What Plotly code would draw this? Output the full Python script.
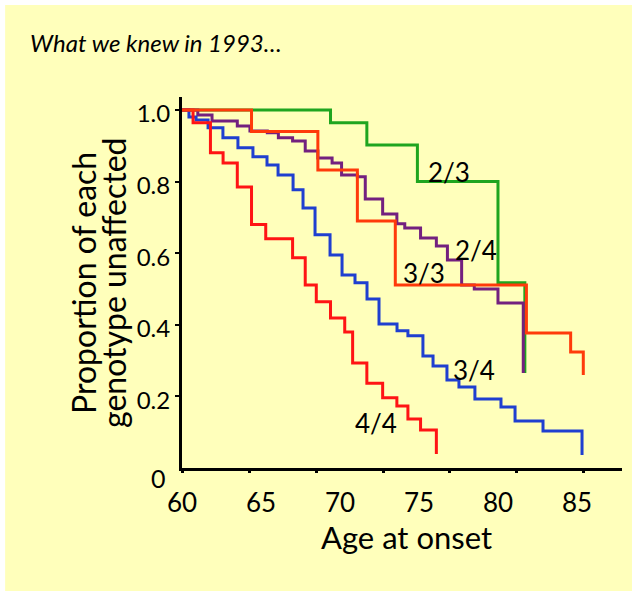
import plotly.graph_objects as go

# Kaplan-Meier style curves
age_23 = [60, 69.4, 71.7, 74.9, 80.0, 81.7]
surv_23 = [1.0, 0.964, 0.902, 0.80, 0.517, 0.265]

age_24 = [60, 61.0, 61.9, 63.5, 64.3, 65.4, 66.1, 67.0, 67.8, 68.6, 69.5, 70.1, 71.1,
          71.6, 72.7, 73.6, 74.1, 75.1, 76.1, 76.8, 77.7, 78.5, 80.0, 81.6]
surv_24 = [1.0, 0.986, 0.969, 0.955, 0.941, 0.936, 0.922, 0.913, 0.885, 0.866, 0.852, 0.818, 0.813,
           0.751, 0.709, 0.682, 0.670, 0.642, 0.620, 0.581, 0.511, 0.50, 0.461, 0.265]

age_33 = [60, 64.4, 68.6, 71.1, 73.5, 81.8, 84.6, 85.4]
surv_33 = [1.0, 0.94, 0.832, 0.69, 0.511, 0.377, 0.324, 0.26]

age_34 = [60, 60.44, 60.89, 61.65, 62.59, 63.54, 64.49, 65.38, 66.08, 67.03, 67.66, 68.42,
          69.37, 70.13, 70.95, 71.71, 72.47, 73.61, 74.30, 75.25, 75.89, 76.77, 77.53,
          78.54, 80.19, 81.08, 82.85, 85.32]
surv_34 = [1.0, 0.98, 0.972, 0.95, 0.922, 0.894, 0.869, 0.846, 0.818, 0.777, 0.726, 0.651,
           0.595, 0.539, 0.517, 0.472, 0.402, 0.383, 0.369, 0.313, 0.285, 0.246, 0.226,
           0.193, 0.17, 0.131, 0.103, 0.036]

age_44 = [60, 60.7, 61.8, 62.6, 63.5, 64.4, 65.3, 67.0, 67.8, 68.5, 69.4, 70.3, 70.8,
          71.7, 72.7, 73.6, 74.3, 75.1, 76.1]
surv_44 = [1.0, 0.964, 0.88, 0.852, 0.785, 0.68, 0.64, 0.587, 0.511, 0.464, 0.419, 0.38, 0.293,
           0.237, 0.196, 0.173, 0.137, 0.106, 0.039]

x_ticks = [60, 65, 70, 75, 80, 85]
x_dots = [60, 64.30, 68.54, 72.78, 76.96, 81.20, 85.44]
y_ticks = [0.2, 0.4, 0.6, 0.8, 1.0]

labels = ["2/3", "2/4", "3/3", "3/4", "4/4"]
label_x = [76.9, 78.6, 75.3, 78.5, 72.3]
label_y = [0.827, 0.609, 0.545, 0.274, 0.126]

FONT = "Lato"
BG = "#FFFFBB"

fig = go.Figure()
curves = [
    (age_23, surv_23, "#1FA51F"),
    (age_24, surv_24, "#73207F"),
    (age_34, surv_34, "#1F3FD0"),
    (age_44, surv_44, "#FF1414"),
    (age_33, surv_33, "#FF3A0A"),
]
for xs, ys, col in curves:
    fig.add_trace(go.Scatter(x=xs, y=ys, mode="lines", line_shape="hv",
                             line=dict(color=col, width=3), showlegend=False,
                             hoverinfo="skip"))

# invisible trace so the tick-dot axis gets drawn
fig.add_trace(go.Scatter(x=[60], y=[0], xaxis="x2", mode="markers",
                         marker=dict(opacity=0), showlegend=False, hoverinfo="skip"))

for t, lx, ly in zip(labels, label_x, label_y):
    fig.add_annotation(x=lx, y=ly, text=t, showarrow=False,
                       font=dict(family=FONT, size=26, color="black"))

# the lone "0" sits outside the x range, so place it in paper coords
fig.add_annotation(xref="paper", yref="paper", x=-0.0545, y=-0.027,
                   xanchor="center", yanchor="middle", text="0", showarrow=False,
                   font=dict(family=FONT, size=25, color="black"))

fig.add_annotation(xref="paper", yref="paper", x=-0.35, y=1.1456,
                   xanchor="left", yanchor="middle",
                   text="<i>What we knew in 1993…</i>", showarrow=False,
                   font=dict(family=FONT, size=24, color="black"))

fig.add_annotation(xref="paper", yref="paper", x=-0.2227, y=0.4987, textangle=-90,
                   xanchor="center", yanchor="middle",
                   text="Proportion of each", showarrow=False,
                   font=dict(family=FONT, size=32, color="black"))
fig.add_annotation(xref="paper", yref="paper", x=-0.1545, y=0.4987, textangle=-90,
                   xanchor="center", yanchor="middle",
                   text="genotype unaffected", showarrow=False,
                   font=dict(family=FONT, size=32, color="black"))

fig.add_annotation(xref="paper", yref="paper", x=0.511, y=-0.186,
                   xanchor="center", yanchor="middle",
                   text="Age at onset", showarrow=False,
                   font=dict(family=FONT, size=31, color="black"))

# yellow slide panel with thin white border
fig.add_shape(type="rect", xref="paper", yref="paper", x0=-0.402, x1=1.0227,
              y0=-0.3315, y1=1.248, fillcolor=BG, line=dict(width=0), layer="below")

fig.update_layout(
    width=637, height=596,
    margin=dict(l=182, r=15, t=97, b=128),
    paper_bgcolor="white",
    plot_bgcolor="rgba(0,0,0,0)",
    font=dict(family=FONT, color="black"),
    xaxis=dict(range=[60, 87.85], tickvals=x_ticks, ticks="", showgrid=False,
               zeroline=False, showline=True, linecolor="black", linewidth=3,
               tickfont=dict(family=FONT, size=26), ticklabelstandoff=10),
    xaxis2=dict(range=[60, 87.85], overlaying="x", anchor="y", side="bottom",
                tickvals=x_dots, ticks="outside", ticklen=4, tickwidth=3,
                tickcolor="black", showticklabels=False, showgrid=False,
                zeroline=False, showline=False),
    yaxis=dict(range=[0, 1.036], tickvals=y_ticks, ticktext=["0.2", "0.4", "0.6", "0.8", "1.0"],
               ticks="outside", ticklen=4, tickwidth=2, tickcolor="black",
               showgrid=False, zeroline=False, showline=True, linecolor="black",
               linewidth=3, tickfont=dict(family=FONT, size=24), ticklabelshift=4),
)

fig.write_html("out.html", config={"displayModeBar": False},
               post_script="document.body.style.margin='0px';")
